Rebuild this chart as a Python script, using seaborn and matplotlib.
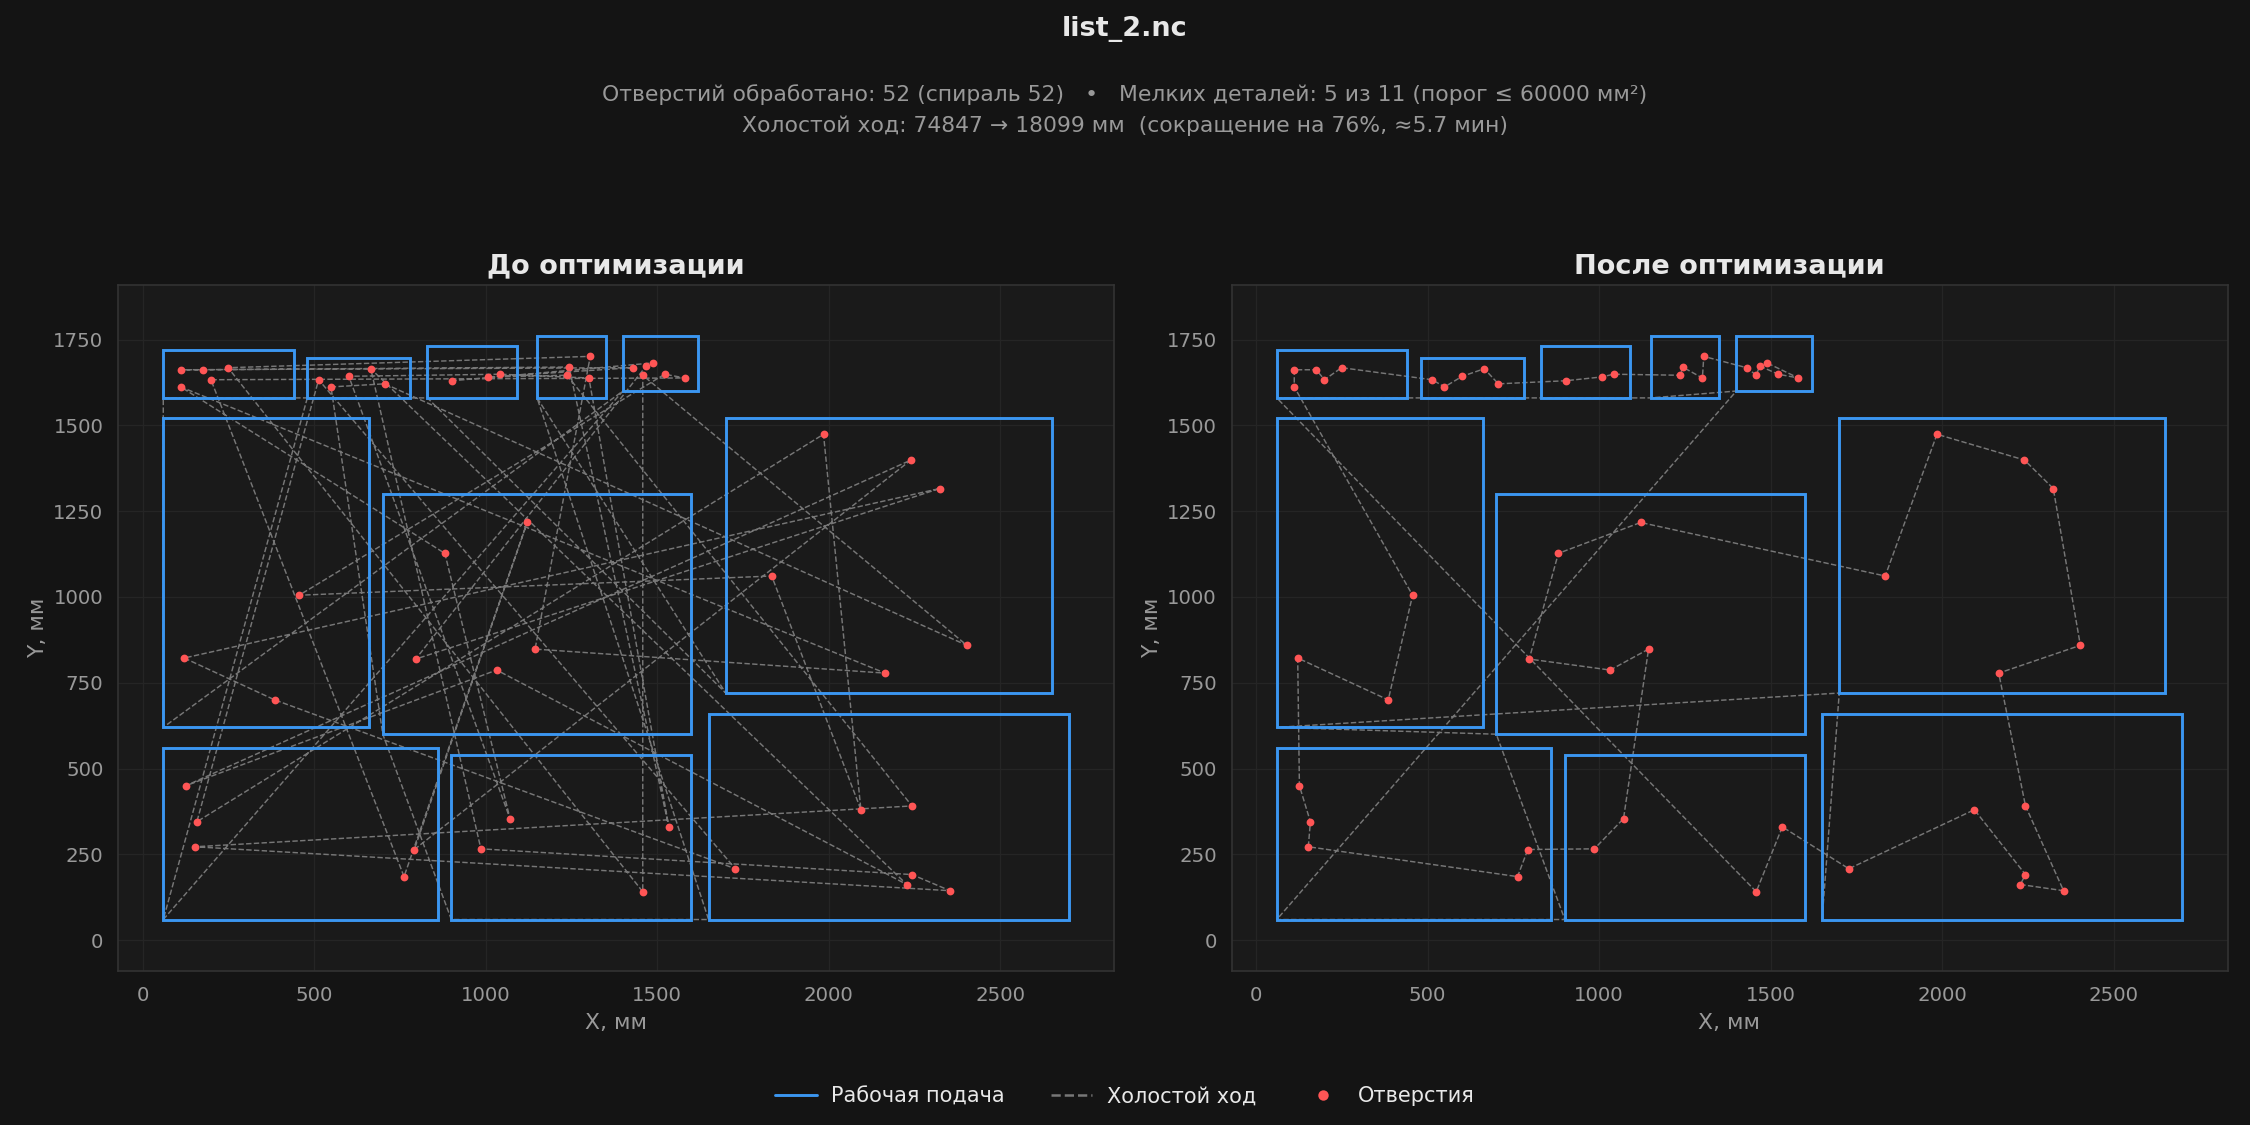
import numpy as np
import pandas as pd
import matplotlib
matplotlib.use('Agg')
import matplotlib.pyplot as plt
from matplotlib.lines import Line2D
from matplotlib.patches import Rectangle
import seaborn as sns

# Detail outlines, mm
rect_x = [60, 700, 1700, 60, 900, 1650, 60, 480, 830, 1150, 1400]
rect_y = [620, 600, 720, 60, 60, 60, 1580, 1580, 1580, 1580, 1600]
rect_w = [600, 900, 950, 800, 700, 1050, 380, 300, 260, 200, 220]
rect_h = [900, 700, 800, 500, 480, 600, 140, 115, 150, 180, 160]

# Holes, in the order of the optimised path
hole_x = [1458, 1534, 1728, 2094, 2243, 2228, 2354, 2243, 2165, 2403, 2324, 2240, 1985,
          1834, 1121, 881, 796, 1032, 1144, 1071, 986, 792, 762, 152, 158, 126, 121, 385,
          456, 111, 111, 175, 199, 249, 513, 549, 601, 665, 706, 902, 1007, 1042, 1237,
          1243, 1301, 1305, 1430, 1458, 1468, 1522, 1581, 1489]
hole_y = [141, 330, 208, 380, 191, 162, 144, 391, 778, 859, 1316, 1399, 1474,
          1061, 1217, 1127, 819, 787, 848, 354, 266, 264, 185, 272, 345, 450, 822, 700,
          1005, 1612, 1662, 1662, 1633, 1668, 1633, 1612, 1643, 1665, 1621, 1630, 1641,
          1649, 1646, 1670, 1638, 1701, 1668, 1646, 1673, 1649, 1638, 1682]

# Hole order before optimisation, as indexes into hole_x / hole_y
before_order = [35, 38, 9, 47, 0, 33, 45, 18, 8, 29, 15, 19, 36, 41, 44, 1, 43, 31, 30, 46,
                40, 42, 7, 23, 6, 4, 20, 37, 5, 17, 25, 11, 21, 14, 22, 32, 50, 49, 28, 13,
                3, 12, 24, 34, 2, 27, 26, 10, 16, 48, 51, 39]

# Outline start points, visited before the holes
before_start_x = [480, 60, 1400, 60, 60, 830, 1700, 1150, 1650, 900, 700]
before_start_y = [1580, 60, 1600, 620, 1580, 1580, 720, 1580, 60, 60, 600]
after_start_x = [1650, 1700, 60, 700, 900, 60, 1400, 1150, 830, 480, 60]
after_start_y = [60, 720, 620, 600, 60, 60, 1600, 1580, 1580, 1580, 1580]

x_ticks = [0, 500, 1000, 1500, 2000, 2500]
y_ticks = [0, 250, 500, 750, 1000, 1250, 1500, 1750]

BG = '#141414'
PANEL = '#1a1a1a'
BLUE = '#3b96f0'
RED = '#ff5555'
RAPID = '#777777'
GREY = '#999999'


def draw_panel(ax, title, path_x, path_y):
    ax.set_facecolor(PANEL)
    path = pd.DataFrame({'x': path_x, 'y': path_y})
    for x, y, w, h in zip(rect_x, rect_y, rect_w, rect_h):
        ax.add_patch(Rectangle((x, y), w, h, fill=False, edgecolor=BLUE, linewidth=1.4, zorder=3))
    sns.lineplot(data=path, x='x', y='y', sort=False, estimator=None, ax=ax, color=RAPID,
                 linewidth=0.7, linestyle='--', zorder=2)
    holes = pd.DataFrame({'x': hole_x, 'y': hole_y})
    sns.scatterplot(data=holes, x='x', y='y', ax=ax, color=RED, s=14, linewidth=0, zorder=4)

    ax.set_xlim(-72, 2832)
    ax.set_ylim(-90, 1909)
    ax.set_xticks(x_ticks)
    ax.set_yticks(y_ticks)
    ax.grid(True, color='#252525', linewidth=0.6)
    ax.set_axisbelow(True)
    ax.tick_params(colors=GREY, labelsize=9.5, length=3.5, width=0.8, color='#555555')
    ax.set_xlabel('X, мм', color=GREY, fontsize=10.5)
    ax.set_ylabel('Y, мм', color=GREY, fontsize=10.5, labelpad=2.5)
    ax.set_title(title, color='#e8e8e8', fontsize=13, fontweight='bold', pad=5.5)
    for spine in ax.spines.values():
        spine.set_color('#333333')
        spine.set_linewidth(0.8)


def main():
    sns.set_theme(style='dark')
    plt.rcParams['font.family'] = ['DejaVu Sans']

    fig = plt.figure(figsize=(15, 7.5), dpi=150, facecolor=BG)
    w, h = 2250, 1125
    ax1 = fig.add_axes([118 / w, 1 - 971 / h, 996 / w, 686 / h])
    ax2 = fig.add_axes([1231.5 / w, 1 - 971 / h, 996 / w, 686 / h])

    before_x = before_start_x + [hole_x[i] for i in before_order]
    before_y = before_start_y + [hole_y[i] for i in before_order]
    after_x = after_start_x + hole_x
    after_y = after_start_y + hole_y

    draw_panel(ax1, 'До оптимизации', before_x, before_y)
    draw_panel(ax2, 'После оптимизации', after_x, after_y)

    fig.text(0.5, 1 - 29 / h, 'list_2.nc', color='#e8e8e8', fontsize=13, fontweight='bold',
             ha='center', va='center')
    fig.text(0.5, 1 - 95 / h, 'Отверстий обработано: 52 (спираль 52)   •   Мелких деталей: 5 из 11 (порог ≤ 60000 мм²)',
             color=GREY, fontsize=10.5, ha='center', va='center')
    fig.text(0.5, 1 - 126 / h, 'Холостой ход: 74847 → 18099 мм  (сокращение на 76%, ≈5.7 мин)',
             color=GREY, fontsize=10.5, ha='center', va='center')

    handles = [
        Line2D([], [], color=BLUE, linewidth=1.4, label='Рабочая подача'),
        Line2D([], [], color=RAPID, linewidth=1.2, linestyle='--', label='Холостой ход'),
        Line2D([], [], color=RED, linestyle='none', marker='o', markersize=5,
               markeredgewidth=0, label='Отверстия'),
    ]
    fig.legend(handles=handles, loc='center', bbox_to_anchor=(0.5, 1 - 1096.5 / h), ncol=3,
               frameon=False, fontsize=10, labelcolor='#e8e8e8', columnspacing=2.2,
               handletextpad=0.7)

    fig.savefig('out.png', facecolor=BG)
    plt.close(fig)


if __name__ == '__main__':
    main()
